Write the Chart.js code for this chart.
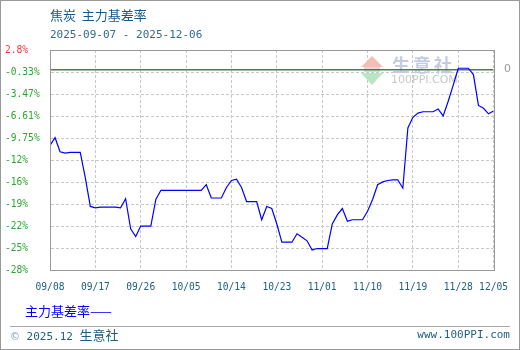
<!DOCTYPE html>
<html>
<head>
<meta charset="utf-8">
<script src="https://cdn.jsdelivr.net/npm/chart.js@4.4.1/dist/chart.umd.min.js"></script>
<style>
  html, body { margin:0; padding:0; background:#fff; }
  #wrap { position:relative; width:520px; height:350px; overflow:hidden; background:#fff; }
  #c { position:absolute; left:0; top:0; z-index:2; }
  .t { position:absolute; white-space:nowrap; z-index:3; }
  #frame { position:absolute; left:0; top:0; width:520px; height:350px; box-sizing:border-box; border:1px solid #999; z-index:4; pointer-events:none; }
  .cjk { font-family:"Noto Sans CJK SC", sans-serif; }
  .mono { font-family:"DejaVu Sans Mono", monospace; }
</style>
</head>
<body>
<div id="wrap">
  <canvas id="c" width="520" height="350"></canvas>
  <div class="t cjk" style="left:50px;top:7px;font-size:13px;line-height:16px;color:#17598a;">焦炭&nbsp;&nbsp;主力基差率</div>
  <div class="t mono" style="left:50px;top:28px;font-size:11px;line-height:14px;color:#2f6c92;">2025-09-07 - 2025-12-06</div>
  <div class="t" style="left:504px;top:62px;font-size:11px;line-height:14px;color:#999;font-family:'DejaVu Sans',sans-serif;">0</div>
  <div class="t cjk" style="left:25px;top:302px;font-size:13px;line-height:17px;color:#0000ff;">主力基差率——</div>
  <div class="t" style="left:10px;top:326px;width:500px;height:1px;background:#aaa;"></div>
  <div class="t" style="left:10px;top:327px;line-height:16px;color:#1f5f7f;"><span style="font-size:10px;color:#8899aa;font-family:'DejaVu Sans',sans-serif;">©</span><span class="mono" style="font-size:11px;"> 2025.12 </span><span class="cjk" style="font-size:13px;">生意社</span></div>
  <div class="t mono" style="right:10px;top:328px;font-size:11px;line-height:14px;color:#1f5f7f;">www.100PPI.com</div>
  <div id="frame"></div>
</div>
<script>
// ---- data ----
const tickDays = [0, 9, 18, 27, 36, 45, 54, 63, 72, 81, 88];
const tickLabels = ['09/08','09/17','09/26','10/05','10/14','10/23','11/01','11/10','11/19','11/28','12/05'];
const yTickValues = [2.8, -0.336, -3.472, -6.608, -9.744, -12.88, -16.016, -19.152, -22.288, -25.424, -28.56];
const yTickLabels = ['2.8%','-0.33%','-3.47%','-6.61%','-9.75%','-12%','-16%','-19%','-22%','-25%','-28%'];
const seriesName = '主力基差率';
const basisRate = [
  -10.8, -9.7, -11.7, -11.9, -11.8, -11.8, -11.8, -15.4, -19.5, -19.7,
  -19.6, -19.6, -19.6, -19.6, -19.7, -18.4, -22.7, -23.8, -22.3, -22.3,
  -22.3, -18.5, -17.2, -17.2, -17.2, -17.2, -17.2, -17.2, -17.2, -17.2,
  -17.2, -16.4, -18.3, -18.3, -18.3, -16.8, -15.8, -15.6, -16.8, -18.8,
  -18.8, -18.8, -21.4, -19.5, -19.8, -22.0, -24.6, -24.6, -24.6, -23.4,
  -23.9, -24.4, -25.7, -25.5, -25.5, -25.5, -22.0, -20.7, -19.8, -21.6,
  -21.4, -21.4, -21.4, -20.2, -18.5, -16.4, -16.0, -15.8, -15.7, -15.7,
  -16.9, -8.3, -6.8, -6.2, -6.0, -6.0, -6.0, -5.6, -6.6, -4.5,
  -2.2, 0.2, 0.2, 0.2, -0.7, -5.1, -5.5, -6.3, -5.9
];
const zeroLine = [0, 0];

const watermark = {
  id: 'watermark',
  beforeDatasetsDraw(chart) {
    const ctx = chart.ctx;
    ctx.save();
    ctx.fillStyle = '#f4bdb6';
    ctx.beginPath(); ctx.moveTo(372, 56); ctx.lineTo(361, 67); ctx.lineTo(383, 67); ctx.closePath(); ctx.fill();
    ctx.fillStyle = '#e6d6d6';
    ctx.fillRect(364, 67, 16, 5);
    ctx.fillStyle = '#b9e5c2';
    ctx.beginPath(); ctx.moveTo(361, 73); ctx.lineTo(383, 73); ctx.lineTo(372, 85); ctx.closePath(); ctx.fill();
    ctx.fillStyle = '#c6cce0';
    ctx.font = 'bold 18px "Noto Sans CJK SC"';
    ctx.textBaseline = 'middle';
    const chars = ['生','意','社'];
    chars.forEach((ch, i) => ctx.fillText(ch, 392 + i * 21, 65));
    ctx.fillStyle = '#c8c8c8';
    ctx.font = '11px "DejaVu Sans"';
    ctx.fillText('100PPI.COM', 391, 80);
    ctx.restore();
  }
};

const frame = {
  id: 'frame',
  afterDraw(chart) {
    const a = chart.chartArea, ctx = chart.ctx;
    ctx.save();
    ctx.strokeStyle = '#999';
    ctx.lineWidth = 1;
    ctx.strokeRect(Math.round(a.left) + 0.5, Math.round(a.top) + 0.5, Math.round(a.right - a.left), Math.round(a.bottom - a.top));
    ctx.restore();
  }
};

new Chart(document.getElementById('c'), {
  type: 'line',
  data: {
    datasets: [
      {
        label: seriesName,
        data: basisRate.map((v, i) => ({ x: i, y: v })),
        borderColor: '#0000ff',
        borderWidth: 1.2,
        pointRadius: 0,
        tension: 0,
        fill: false
      },
      {
        label: 'zero',
        data: zeroLine.map((v, i) => ({ x: i === 0 ? tickDays[0] : tickDays[tickDays.length - 1], y: v })),
        borderColor: '#2e8b57',
        borderWidth: 1.5,
        pointRadius: 0,
        fill: false
      }
    ]
  },
  options: {
    responsive: false,
    animation: false,
    devicePixelRatio: 1,
    layout: { padding: { left: 5, top: 50, right: 20, bottom: 55 } },
    plugins: { legend: { display: false }, tooltip: { enabled: false }, title: { display: false } },
    scales: {
      x: {
        type: 'linear',
        min: tickDays[0],
        max: tickDays[tickDays.length - 1],
        afterBuildTicks: s => { s.ticks = tickDays.map(v => ({ value: v })); },
        afterFit: s => { s.height = 25; },
        grid: { color: '#c8c8c8', lineWidth: 1, drawTicks: false },
        border: { display: true, color: '#999', dash: [3, 2] },
        ticks: {
          padding: 12,
          autoSkip: false,
          maxRotation: 0,
          color: '#1f5f7f',
          font: { family: 'DejaVu Sans Mono', size: 9.6 },
          callback: v => { const k = tickDays.indexOf(v); return k >= 0 ? tickLabels[k] : ''; }
        }
      },
      y: {
        type: 'linear',
        min: yTickValues[yTickValues.length - 1],
        max: yTickValues[0],
        afterBuildTicks: s => { s.ticks = yTickValues.map(v => ({ value: v })); },
        afterFit: s => { s.width = 45; },
        grid: { color: '#c8c8c8', lineWidth: 1, drawTicks: false },
        border: { display: true, color: '#999', dash: [3, 2] },
        ticks: {
          crossAlign: 'far',
          padding: 4,
          autoSkip: false,
          color: c => c.index === 0 ? '#ee3b3b' : '#2ea52e',
          font: { family: 'DejaVu Sans Mono', size: 9.6 },
          callback: (v, i) => yTickLabels[i]
        }
      }
    }
  },
  plugins: [watermark, frame]
});
</script>
</body>
</html>
